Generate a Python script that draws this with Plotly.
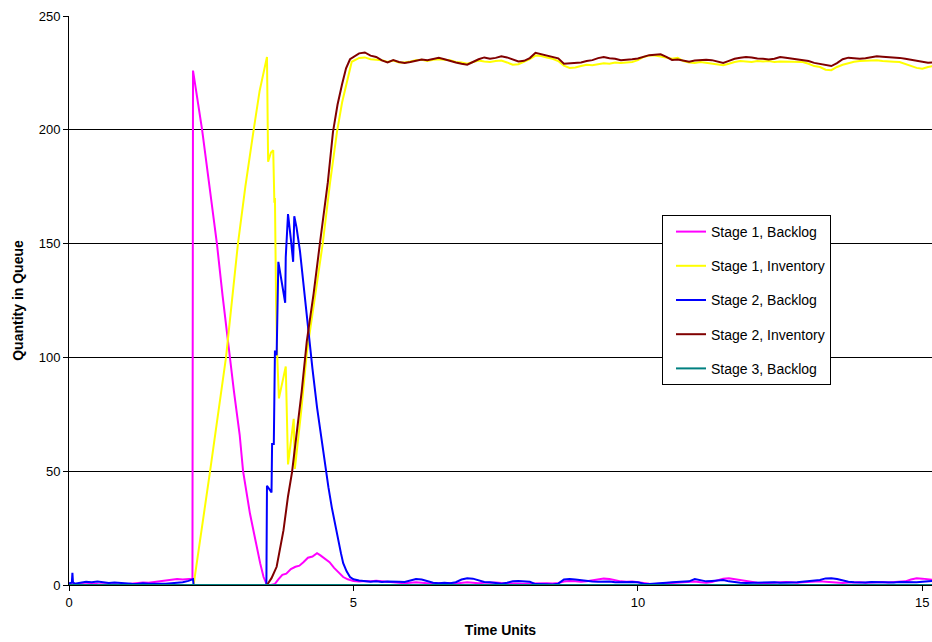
import numpy as np
import plotly.graph_objects as go

# ---- sample times shared by the steady-state part of every series ----
T_TAIL = np.round(np.arange(5.2, 15.25, 0.1), 1)

# ---- Stage 1, Backlog ----
S1B_T = [0.0, 0.1, 0.2, 0.3, 0.4, 0.5, 0.6, 0.7, 0.8, 0.9, 1.0, 1.1, 1.2, 1.3, 1.4, 1.5, 1.6, 1.7, 1.8, 1.9,
         2.0, 2.1, 2.17, 2.18, 2.34, 2.47, 2.6, 2.7, 2.8, 2.9, 3.0, 3.06, 3.18, 3.27, 3.36, 3.42, 3.48,
         3.55, 3.62, 3.68, 3.75, 3.82, 3.9, 3.98, 4.05, 4.12, 4.2, 4.28, 4.36, 4.42, 4.5, 4.58, 4.66,
         4.74, 4.82, 4.9, 5.0, 5.1]
S1B_V = [0.3, 0.5, 0.4, 0.3, 0.6, 0.4, 0.3, 0.5, 0.4, 0.2, 0.3, 0.6, 0.9, 1.1, 1.0, 1.3, 1.6, 1.8, 2.1, 2.6,
         2.4, 2.7, 2.8, 226, 200, 175, 150, 127, 105, 85, 66, 50, 31.5, 20, 9.6, 3.5, 0,
         0, 0.5, 2.5, 4.5, 5.0, 7.0, 8.0, 8.5, 10.0, 12.0, 12.5, 14.0, 13.0, 11.5, 10.0, 7.5,
         5.5, 3.5, 2.5, 1.8, 1.5]
S1B_TAIL = [1.8, 1.6, 1.9, 1.7, 1.4, 1.2, 1.0, 0.8, 1.0, 1.2,
            1.0, 0.8, 0.6, 0.8, 1.0, 0.9, 0.7, 0.9, 1.2, 1.0,
            0.8, 1.0, 1.2, 1.1, 0.9, 0.8, 0.6, 0.5, 0.6, 0.7,
            0.8, 0.9, 0.8, 0.7, 0.9, 1.5, 1.8, 1.6, 1.4, 1.6,
            2.0, 2.4, 2.8, 2.6, 2.0, 1.6, 1.4, 1.5, 1.2, 0.8,
            0.5, 0.4, 0.6, 0.8, 0.9, 1.0, 1.2, 1.4, 1.5, 1.2,
            1.0, 1.3, 2.2, 2.8, 3.0, 2.6, 2.0, 1.5, 1.2, 1.0,
            0.8, 1.0, 1.2, 1.1, 1.3, 1.2, 1.0, 1.2, 1.4, 1.5,
            1.6, 1.4, 1.2, 1.0, 0.9, 1.1, 1.3, 1.2, 1.0, 1.2,
            1.4, 1.3, 1.1, 1.2, 1.4, 1.6, 2.4, 3.0, 2.8, 2.6,
            2.2]

# ---- Stage 1, Inventory ----
S1I_T = [0.0, 2.19, 2.48, 2.76, 2.97, 3.1, 3.24, 3.35, 3.48, 3.5, 3.55, 3.59, 3.61, 3.62, 3.64,
         3.66, 3.69, 3.81, 3.85, 3.95, 3.97, 4.08, 4.18, 4.32, 4.46, 4.59, 4.71, 4.8, 4.89, 4.97,
         5.06, 5.1]
S1I_V = [0, 0, 50, 100, 150, 175, 199, 217, 232, 186, 190, 191, 168, 170, 124,
         101, 82, 96, 53, 73, 51, 76, 102, 126, 150, 177, 199, 212, 221, 229.9,
         231, 231.6]
S1I_TAIL = [231.8, 231.0, 230.8, 230.6, 229.8, 230.4, 229.6, 229.6, 230.0, 230.6,
            230.8, 230.2, 230.8, 231.0, 230.8, 230.6, 229.8, 229.6, 229.0, 229.6,
            230.4, 230.0, 229.8, 230.2, 230.4, 229.6, 228.6, 228.8, 229.8, 231.0,
            232.6, 232.4, 231.8, 231.2, 230.2, 228.2, 227.2, 227.4, 228.0, 228.6,
            228.4, 228.8, 229.2, 229.0, 229.6, 229.4, 229.6, 229.8, 230.6, 232.0,
            232.6, 232.6, 232.2, 231.6, 231.2, 231.6, 230.2, 229.6, 229.4, 229.8,
            229.4, 229.0, 228.6, 228.4, 229.0, 229.8, 230.2, 230.0, 229.8, 230.2,
            230.0, 230.2, 229.8, 230.0, 229.9, 229.8, 229.9, 229.8, 229.0, 228.0,
            227.6, 226.4, 226.2, 227.6, 228.6, 229.4, 229.9, 230.2, 230.4, 230.4,
            230.6, 230.2, 229.9, 229.9, 229.8, 229.0, 228.2, 227.2, 226.8, 227.6,
            228.0]

# ---- Stage 2, Backlog ----
S2B_T = [0.0, 0.05, 0.06, 0.07, 0.1, 0.2, 0.3, 0.4, 0.5, 0.6, 0.7, 0.8, 0.9, 1.0, 1.1, 1.2, 1.3, 1.4,
         1.5, 1.6, 1.7, 1.8, 1.9, 2.0, 2.1, 2.15, 2.18, 2.19,
         3.47, 3.48, 3.52, 3.56, 3.57, 3.6, 3.62, 3.65, 3.68, 3.74, 3.8, 3.81, 3.85, 3.9, 3.94,
         3.96, 4.0, 4.06, 4.13, 4.2, 4.28, 4.36, 4.43, 4.5, 4.56, 4.62, 4.68, 4.73, 4.78, 4.82,
         4.88, 4.94, 5.0, 5.1]
S2B_V = [0.8, 1.0, 5.4, 1.2, 0.6, 1.0, 1.4, 1.2, 1.5, 1.2, 0.9, 1.1, 0.8, 0.6, 0.5, 0.4, 0.8, 0.6,
         0.5, 0.4, 0.6, 0.8, 1.0, 1.2, 1.8, 2.4, 2.6, 0,
         0, 43.6, 42, 40.7, 62, 62, 103, 101, 142, 133, 124, 144, 163, 152, 142,
         162, 157, 146.7, 130, 113, 95, 78, 65, 53.4, 43, 34, 26, 19.7, 14, 9.6,
         6, 3.5, 2.5, 2.0]
S2B_TAIL = [1.8, 1.4, 1.6, 1.3, 1.5, 1.6, 1.4, 1.3, 2.0, 2.6,
            2.4, 1.8, 1.0, 0.8, 1.0, 0.8, 1.2, 2.4, 3.0, 2.8,
            2.0, 1.3, 1.2, 1.0, 0.6, 1.0, 1.6, 1.8, 1.7, 1.4,
            0.4, 0.2, 0.3, 0.2, 0.6, 2.4, 2.6, 2.4, 2.0, 1.9,
            1.5, 1.4, 1.6, 1.5, 1.2, 1.3, 1.5, 1.3, 1.2, 0.6,
            0.4, 0.5, 0.6, 1.0, 1.2, 1.3, 1.5, 1.6, 2.6, 2.0,
            1.6, 1.8, 2.0, 2.2, 1.6, 1.2, 1.0, 0.9, 1.0, 1.1,
            0.9, 1.0, 1.2, 1.0, 0.9, 1.1, 1.2, 1.4, 1.6, 2.0,
            2.2, 2.9, 3.0, 2.6, 2.0, 1.4, 1.2, 1.0, 1.1, 1.3,
            1.2, 1.0, 1.2, 1.1, 1.3, 1.2, 1.0, 1.2, 1.4, 1.6,
            1.8]

# ---- Stage 2, Inventory ----
S2I_T = [0.0, 3.48, 3.56, 3.65, 3.77, 3.85, 3.92, 4.0, 4.09, 4.18, 4.3, 4.41, 4.55, 4.64, 4.72,
         4.8, 4.87, 4.94, 5.03, 5.1]
S2I_V = [0, 0, 3, 8, 24, 39, 49.5, 66, 85, 107, 128, 150, 177, 199, 211,
         220, 227, 231, 232.5, 233.6]
S2I_TAIL = [234.0, 232.6, 232.0, 230.5, 229.6, 230.6, 229.8, 229.4, 229.8, 230.3,
            230.9, 230.6, 231.2, 231.6, 231.0, 230.2, 229.6, 229.0, 228.6, 229.8,
            231.0, 231.8, 231.2, 231.6, 232.3, 231.8, 231.0, 230.0, 230.3, 231.5,
            233.8, 233.2, 232.6, 232.3, 231.4, 229.0, 229.1, 229.3, 229.6, 230.2,
            230.6, 231.5, 232.0, 231.4, 231.2, 230.6, 230.7, 231.0, 231.3, 232.2,
            232.8, 233.0, 233.2, 232.0, 230.7, 230.9, 230.3, 229.9, 230.4, 230.6,
            230.8, 230.6, 230.0, 229.4, 230.3, 231.2, 231.7, 232.0, 231.8, 231.3,
            231.2, 230.9, 231.2, 232.0, 231.7, 231.3, 231.0, 230.6, 230.2, 229.4,
            228.9, 228.3, 228.0, 229.3, 231.0, 231.7, 231.5, 231.2, 231.4, 232.0,
            232.3, 232.1, 232.0, 231.8, 231.6, 231.2, 230.7, 230.3, 229.9, 229.5,
            229.6]

# ---- Stage 3, Backlog ----
S3B_T = [0.0, 15.2]
S3B_V = [0, 0]

SERIES = [
    ("Stage 1, Backlog", S1B_T, S1B_V, S1B_TAIL, "#FF00FF"),
    ("Stage 1, Inventory", S1I_T, S1I_V, S1I_TAIL, "#FFFF00"),
    ("Stage 2, Backlog", S2B_T, S2B_V, S2B_TAIL, "#0000FF"),
    ("Stage 2, Inventory", S2I_T, S2I_V, S2I_TAIL, "#800000"),
    ("Stage 3, Backlog", S3B_T, S3B_V, None, "#008080"),
]

FONT = "Arial, Liberation Sans, sans-serif"

fig = go.Figure()
for i, (name, t, v, tail, color) in enumerate(SERIES):
    x = list(t) + (list(T_TAIL) if tail is not None else [])
    y = list(v) + (list(tail) if tail is not None else [])
    fig.add_trace(go.Scatter(
        x=x, y=y, mode="lines", name=name,
        line=dict(color=color, width=2),
        legendgroup=f"g{i}",
    ))

fig.update_layout(
    width=932, height=642,
    margin=dict(l=69, r=0, t=16, b=57),
    paper_bgcolor="white", plot_bgcolor="white",
    font=dict(family=FONT, size=13, color="black"),
    showlegend=True,
    legend=dict(
        x=(662 - 69) / 863, y=(585 - 215) / 569,
        xanchor="left", yanchor="top",
        bgcolor="white", bordercolor="black", borderwidth=1,
        font=dict(family=FONT, size=14, color="black"),
        tracegroupgap=13, indentation=8,
    ),
    xaxis=dict(
        range=[0, 15.17], tickvals=[0, 5, 10, 15],
        showgrid=False, zeroline=False,
        showline=True, linecolor="black", linewidth=1,
        ticks="outside", ticklen=5, tickcolor="black",
        layer="below traces",
        title=dict(text="Time Units", font=dict(family=FONT, size=14, weight="bold"), standoff=16),
    ),
    yaxis=dict(
        range=[0, 250], tickvals=[0, 50, 100, 150, 200, 250],
        showgrid=True, gridcolor="black", gridwidth=1,
        zeroline=False,
        showline=True, linecolor="black", linewidth=1,
        ticks="outside", ticklen=5, tickcolor="black",
        layer="below traces",
        title=dict(text="Quantity in Queue", font=dict(family=FONT, size=14, weight="bold"), standoff=11),
    ),
)

fig.write_html("out.html")
